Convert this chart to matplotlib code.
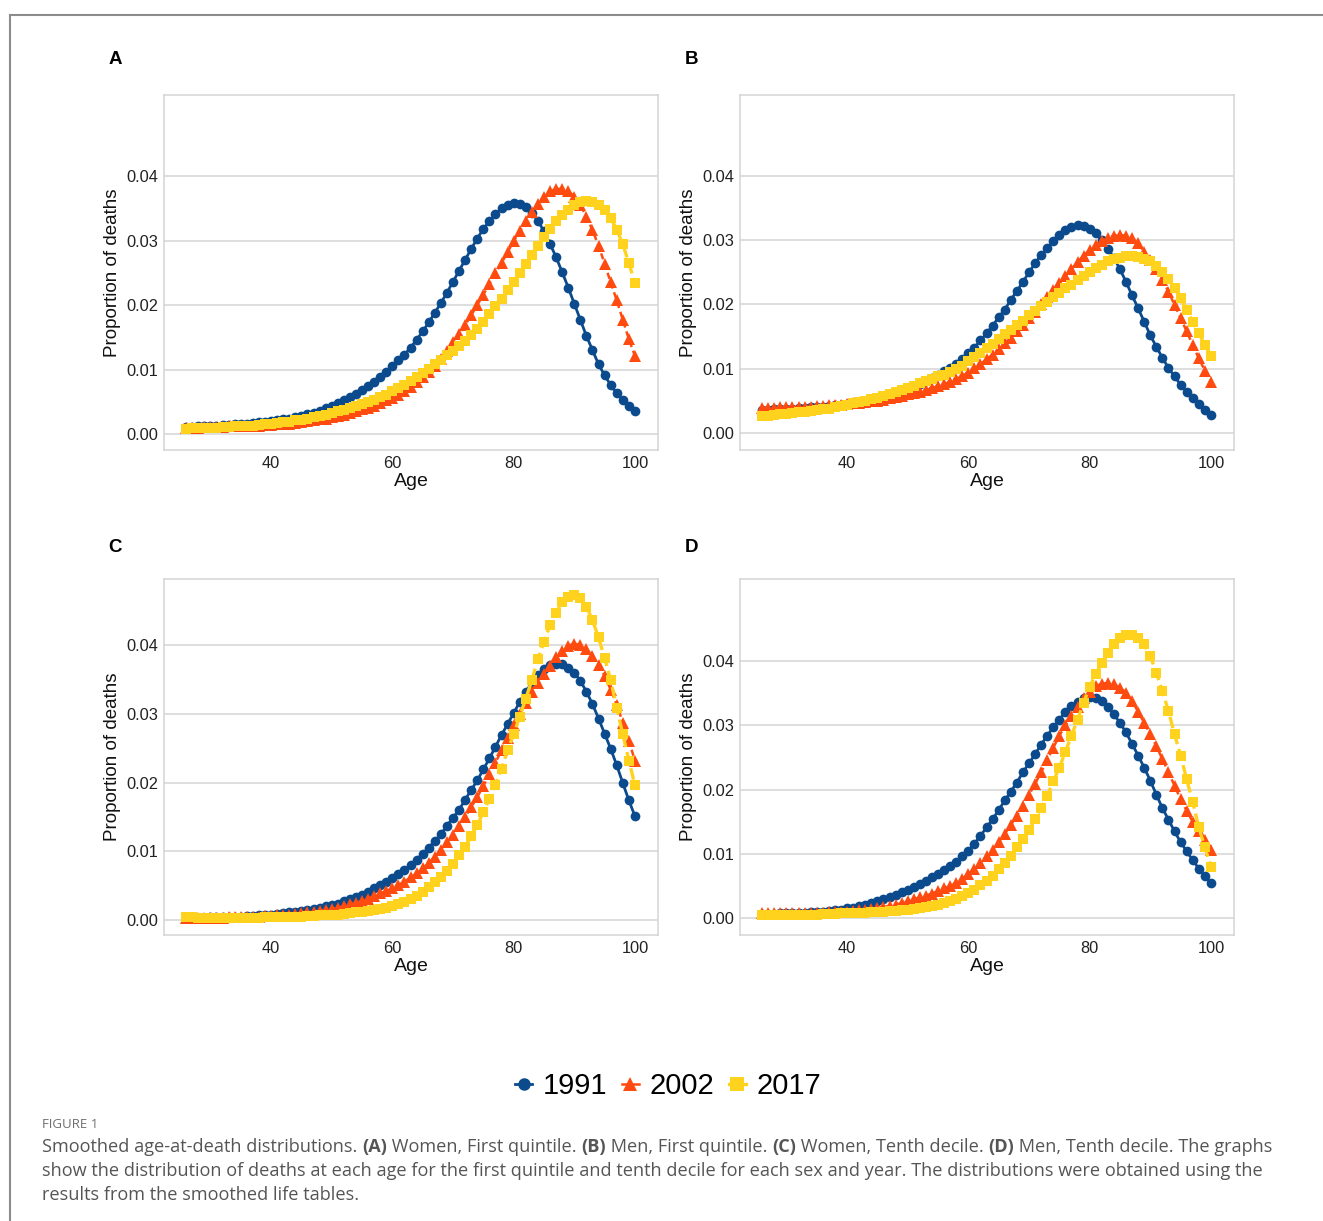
import matplotlib
matplotlib.use("Agg")
import matplotlib.pyplot as plt
from matplotlib.lines import Line2D

# ages 26..100
ages = list(range(26, 101))
years = ["1991", "2002", "2017"]

# (A) Women, first quintile
a_1991 = [.0011, .0011, .0012, .0012, .0013, .0013, .0014, .0014, .0015, .0015,
          .0016, .0017, .0018, .0019, .0020, .0021, .0023, .0024, .0026, .0028,
          .0031, .0033, .0036, .0040, .0044, .0048, .0052, .0057, .0062, .0068,
          .0074, .0081, .0088, .0096, .0105, .0114, .0123, .0134, .0146, .0159,
          .0173, .0188, .0203, .0219, .0236, .0253, .0270, .0287, .0303, .0318,
          .0330, .0341, .0350, .0355, .0358, .0357, .0352, .0343, .0331, .0314,
          .0295, .0274, .0251, .0227, .0202, .0177, .0152, .0130, .0108, .0091,
          .0076, .0063, .0052, .0043, .0035]
a_2002 = [.0010, .0010, .0010, .0011, .0011, .0011, .0011, .0012, .0012, .0012,
          .0013, .0013, .0013, .0014, .0014, .0015, .0016, .0016, .0017, .0018,
          .0020, .0021, .0023, .0024, .0026, .0028, .0030, .0032, .0035, .0038,
          .0041, .0044, .0048, .0052, .0056, .0061, .0067, .0073, .0080, .0088,
          .0096, .0106, .0117, .0129, .0142, .0155, .0169, .0184, .0200, .0216,
          .0233, .0249, .0265, .0282, .0299, .0314, .0330, .0344, .0357, .0368,
          .0376, .0380, .0380, .0377, .0368, .0355, .0337, .0316, .0292, .0264,
          .0235, .0207, .0177, .0147, .0121]
a_2017 = [.0008, .0009, .0009, .0010, .0010, .0010, .0011, .0011, .0012, .0012,
          .0013, .0013, .0014, .0015, .0016, .0017, .0018, .0019, .0021, .0022,
          .0024, .0026, .0028, .0030, .0032, .0035, .0037, .0040, .0043, .0046,
          .0049, .0053, .0057, .0061, .0066, .0071, .0076, .0082, .0088, .0094,
          .0101, .0108, .0115, .0122, .0129, .0136, .0144, .0153, .0163, .0174,
          .0186, .0198, .0210, .0223, .0236, .0250, .0264, .0278, .0292, .0305,
          .0318, .0330, .0339, .0348, .0355, .0359, .0361, .0360, .0355, .0347,
          .0335, .0317, .0294, .0265, .0234]

# (B) Men, first quintile
b_1991 = [.0036, .0036, .0037, .0037, .0038, .0038, .0039, .0039, .0040, .0040,
          .0041, .0042, .0043, .0044, .0045, .0046, .0048, .0049, .0051, .0053,
          .0056, .0058, .0061, .0065, .0068, .0072, .0076, .0081, .0086, .0091,
          .0096, .0101, .0107, .0115, .0124, .0133, .0144, .0155, .0167, .0180,
          .0192, .0207, .0221, .0235, .0250, .0264, .0277, .0288, .0298, .0308,
          .0316, .0321, .0323, .0322, .0318, .0311, .0300, .0287, .0272, .0255,
          .0235, .0214, .0194, .0173, .0152, .0134, .0117, .0101, .0088, .0075,
          .0064, .0054, .0045, .0036, .0028]
b_2002 = [.0039, .0039, .0039, .0040, .0040, .0040, .0041, .0041, .0041, .0042,
          .0042, .0043, .0043, .0044, .0045, .0046, .0047, .0048, .0049, .0050,
          .0052, .0054, .0056, .0058, .0060, .0062, .0064, .0067, .0070, .0073,
          .0076, .0080, .0084, .0089, .0094, .0101, .0107, .0115, .0122, .0131,
          .0140, .0148, .0158, .0168, .0179, .0189, .0200, .0211, .0222, .0233,
          .0244, .0255, .0266, .0276, .0285, .0293, .0299, .0303, .0307, .0308,
          .0307, .0303, .0295, .0282, .0269, .0255, .0238, .0220, .0199, .0179,
          .0158, .0137, .0116, .0097, .0079]
b_2017 = [.0026, .0027, .0028, .0029, .0030, .0031, .0032, .0033, .0034, .0035,
          .0037, .0038, .0040, .0042, .0044, .0046, .0048, .0050, .0053, .0055,
          .0058, .0061, .0064, .0067, .0070, .0073, .0077, .0081, .0084, .0088,
          .0091, .0095, .0099, .0105, .0112, .0118, .0125, .0132, .0139, .0146,
          .0154, .0161, .0168, .0175, .0183, .0190, .0197, .0204, .0211, .0218,
          .0225, .0231, .0238, .0244, .0250, .0256, .0262, .0267, .0270, .0273,
          .0275, .0275, .0274, .0271, .0267, .0260, .0251, .0239, .0225, .0210,
          .0191, .0173, .0155, .0137, .0120]

# (C) Women, tenth decile
c_1991 = [.0003, .0003, .0003, .0003, .0004, .0004, .0004, .0004, .0005, .0005,
          .0006, .0006, .0007, .0007, .0008, .0009, .0010, .0011, .0012, .0013,
          .0014, .0016, .0018, .0020, .0022, .0024, .0027, .0030, .0033, .0037,
          .0041, .0046, .0051, .0056, .0061, .0067, .0073, .0080, .0088, .0096,
          .0105, .0115, .0125, .0137, .0149, .0160, .0175, .0189, .0203, .0219,
          .0235, .0252, .0269, .0285, .0301, .0317, .0332, .0345, .0356, .0365,
          .0371, .0373, .0372, .0367, .0360, .0348, .0332, .0314, .0293, .0271,
          .0249, .0225, .0199, .0174, .0151]
c_2002 = [.0003, .0003, .0003, .0003, .0003, .0003, .0003, .0004, .0004, .0004,
          .0004, .0005, .0005, .0006, .0006, .0007, .0007, .0008, .0009, .0010,
          .0011, .0012, .0013, .0015, .0016, .0018, .0020, .0023, .0025, .0028,
          .0031, .0035, .0039, .0042, .0046, .0051, .0056, .0062, .0068, .0075,
          .0083, .0092, .0102, .0113, .0124, .0137, .0150, .0164, .0179, .0195,
          .0212, .0229, .0247, .0265, .0283, .0300, .0316, .0331, .0345, .0358,
          .0370, .0382, .0392, .0399, .0402, .0400, .0394, .0384, .0371, .0355,
          .0335, .0313, .0287, .0260, .0232]
c_2017 = [.0004, .0004, .0003, .0003, .0003, .0003, .0003, .0003, .0003, .0003,
          .0003, .0003, .0003, .0004, .0004, .0004, .0004, .0005, .0005, .0005,
          .0006, .0006, .0007, .0007, .0008, .0008, .0009, .0010, .0011, .0012,
          .0013, .0015, .0016, .0018, .0020, .0023, .0026, .0031, .0035, .0041,
          .0048, .0055, .0063, .0072, .0082, .0094, .0106, .0122, .0138, .0157,
          .0176, .0197, .0220, .0247, .0270, .0296, .0322, .0349, .0379, .0405,
          .0429, .0446, .0462, .0470, .0473, .0468, .0456, .0436, .0411, .0381,
          .0349, .0308, .0270, .0232, .0196]

# (D) Men, tenth decile
d_1991 = [.0006, .0006, .0006, .0007, .0007, .0007, .0008, .0008, .0009, .0009,
          .0010, .0011, .0012, .0013, .0015, .0016, .0018, .0020, .0023, .0026,
          .0029, .0032, .0036, .0040, .0044, .0048, .0053, .0058, .0064, .0069,
          .0075, .0081, .0087, .0096, .0105, .0116, .0128, .0141, .0154, .0168,
          .0183, .0197, .0211, .0227, .0241, .0255, .0270, .0284, .0297, .0309,
          .0321, .0330, .0337, .0342, .0344, .0343, .0338, .0329, .0317, .0304,
          .0289, .0271, .0253, .0234, .0214, .0192, .0171, .0153, .0135, .0118,
          .0104, .0090, .0077, .0065, .0054]
d_2002 = [.0007, .0007, .0007, .0007, .0007, .0007, .0007, .0008, .0008, .0008,
          .0008, .0009, .0009, .0010, .0010, .0011, .0012, .0013, .0014, .0015,
          .0017, .0019, .0021, .0023, .0026, .0029, .0032, .0035, .0038, .0042,
          .0046, .0050, .0055, .0061, .0069, .0077, .0086, .0096, .0106, .0118,
          .0131, .0145, .0159, .0175, .0192, .0209, .0227, .0246, .0265, .0284,
          .0300, .0315, .0329, .0342, .0352, .0361, .0365, .0366, .0364, .0359,
          .0351, .0338, .0321, .0304, .0286, .0268, .0247, .0227, .0206, .0185,
          .0167, .0150, .0136, .0121, .0106]
d_2017 = [.0005, .0005, .0005, .0005, .0005, .0005, .0005, .0005, .0005, .0005,
          .0006, .0006, .0006, .0007, .0007, .0007, .0008, .0008, .0009, .0009,
          .0010, .0011, .0011, .0012, .0013, .0014, .0016, .0017, .0019, .0021,
          .0024, .0027, .0030, .0034, .0039, .0044, .0051, .0058, .0066, .0076,
          .0086, .0097, .0110, .0123, .0137, .0154, .0171, .0190, .0213, .0234,
          .0259, .0284, .0309, .0335, .0360, .0380, .0397, .0413, .0427, .0436,
          .0441, .0441, .0436, .0426, .0408, .0382, .0353, .0322, .0286, .0253,
          .0216, .0180, .0141, .0110, .0080]

yticks = [0.00, 0.01, 0.02, 0.03, 0.04]
xticks = [40, 60, 80, 100]

W, H = 1323, 1221
fig = plt.figure(figsize=(W / 100, H / 100), dpi=100)
plt.rcParams['font.family'] = ['Liberation Sans', 'DejaVu Sans']

# series styles: colour, marker, size, dashes, line width
styles = [
    ("#0B4A8C", "o", 7.0, None, 2.0),
    ("#FF4A10", "^", 8.6, (2.5, 1.6), 1.8),
    ("#FFD21E", "s", 7.4, (3.5, 1.5), 2.4),
]

# panels: label, data, pixel box (left, top, right, bottom), label y, ylim
panels = [
    ("A", [a_1991, a_2002, a_2017], (164, 95, 658, 450), 60, (-0.00248, 0.05256)),
    ("B", [b_1991, b_2002, b_2017], (740, 95, 1234, 450), 60, (-0.00265, 0.0526)),
    ("C", [c_1991, c_2002, c_2017], (164, 579, 658, 935), 547, (-0.00218, 0.0496)),
    ("D", [d_1991, d_2002, d_2017], (740, 579, 1234, 935), 547, (-0.00265, 0.0528)),
]

grid_col = "#d4d4d4"
for label, series, (l, t, r, b), ly, ylim in panels:
    ax = fig.add_axes([l / W, 1 - b / H, (r - l) / W, (b - t) / H])
    for vals, (col, mk, ms, dash, lw) in zip(series, styles):
        line, = ax.plot(ages, vals, color=col, marker=mk, markersize=ms,
                        lw=lw, markeredgewidth=0, zorder=3)
        if dash is not None:
            line.set_dashes(dash)
    ax.set_xlim(22.35, 103.8)
    ax.set_ylim(*ylim)
    ax.set_xticks(xticks)
    ax.set_yticks(yticks)
    ax.set_yticklabels(["%.2f" % v for v in yticks])
    ax.yaxis.grid(True, color=grid_col, lw=1.1)
    ax.set_axisbelow(True)
    ax.tick_params(length=0, labelsize=11.8, labelcolor="#222222", pad=4)
    for sp in ax.spines.values():
        sp.set_color(grid_col)
        sp.set_linewidth(1.1)
    ax.set_xlabel("Age", fontsize=14, color="#111111", labelpad=2)
    ax.set_ylabel("Proportion of deaths", fontsize=13.5, color="#111111", labelpad=4)
    fig.text((l - 49) / W, 1 - ly / H, label, fontsize=13.5, fontweight="bold",
             ha="center", va="center")

# legend
handles = [Line2D([], [], color=c, marker=m, markersize=ms + 2, lw=lw,
                  markeredgewidth=0) for c, m, ms, d, lw in styles]
fig.legend(handles, years, loc="center", bbox_to_anchor=(668 / W, 1 - 1086 / H),
           ncol=3, frameon=False, fontsize=21, handlelength=0.6,
           handletextpad=0.35, columnspacing=0.5)

# outer frame of the figure panel
fig.add_artist(Line2D([10 / W, 10 / W], [0, 1 - 15 / H], transform=fig.transFigure,
                      color="#8c8c8c", lw=1.5))
fig.add_artist(Line2D([10 / W, 1], [1 - 15 / H, 1 - 15 / H], transform=fig.transFigure,
                      color="#8c8c8c", lw=1.5))

# caption
cap_font = ["Open Sans", "DejaVu Sans"]
fig.text(42 / W, 1 - 1124 / H, "FIGURE 1", fontsize=9.5, color="#6f6f6f",
         family=cap_font, va="center")

caption = [
    [("Smoothed age-at-death distributions. ", False), ("(A)", True),
     (" Women, First quintile. ", False), ("(B)", True),
     (" Men, First quintile. ", False), ("(C)", True),
     (" Women, Tenth decile. ", False), ("(D)", True),
     (" Men, Tenth decile. The graphs", False)],
    [("show the distribution of deaths at each age for the first quintile and tenth "
      "decile for each sex and year. The distributions were obtained using the", False)],
    [("results from the smoothed life tables.", False)],
]
cap_y = [1147, 1171, 1195]
renderer = fig.canvas.get_renderer()
for segs, yy in zip(caption, cap_y):
    x = 42
    for txt, bold in segs:
        t = fig.text(x / W, 1 - yy / H, txt, fontsize=13.1, color="#555555",
                     family=cap_font, fontweight="bold" if bold else "normal",
                     va="center", ha="left")
        x += t.get_window_extent(renderer).width

fig.savefig("out.png", dpi=100)
